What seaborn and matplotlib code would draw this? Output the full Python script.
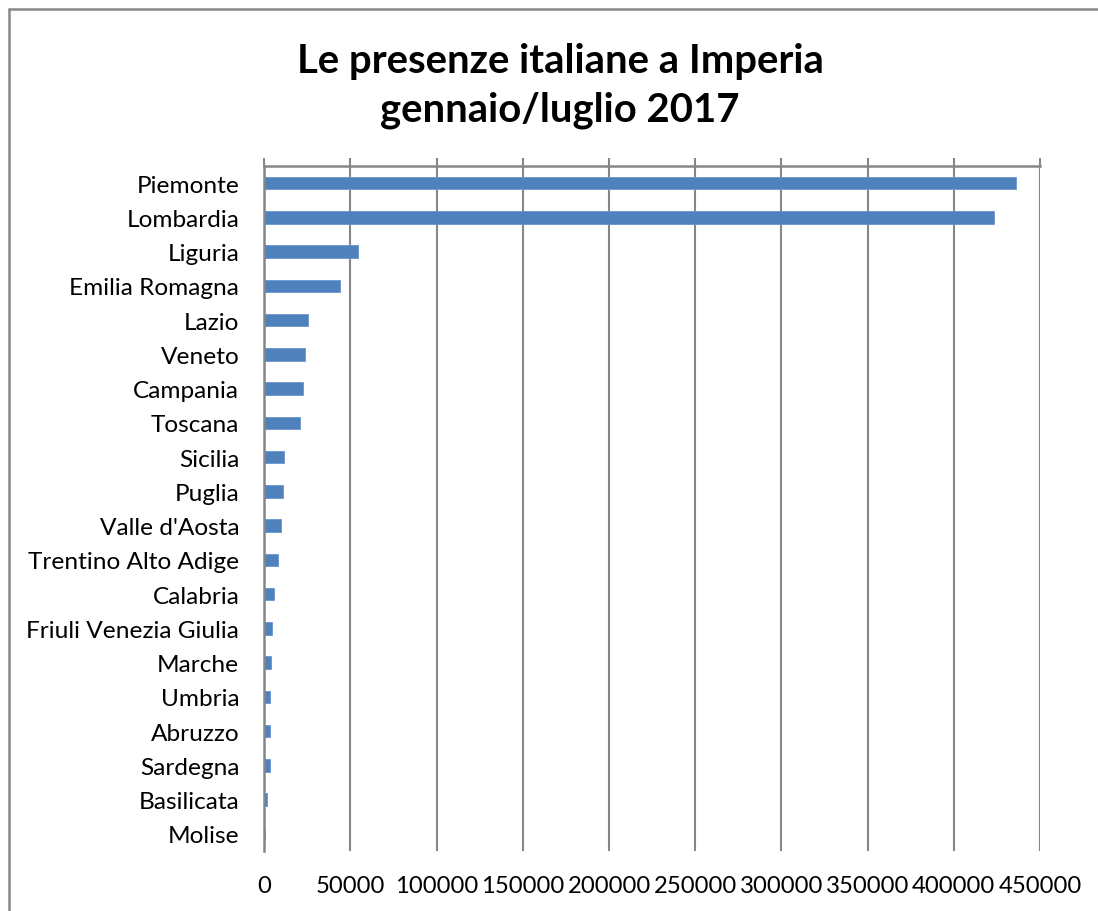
import numpy as np
import pandas as pd
import matplotlib
matplotlib.use("Agg")
import matplotlib.pyplot as plt
import seaborn as sns
from matplotlib.lines import Line2D

regioni = ['Piemonte', 'Lombardia', 'Liguria', 'Emilia Romagna', 'Lazio', 'Veneto',
           'Campania', 'Toscana', 'Sicilia', 'Puglia', "Valle d'Aosta",
           'Trentino Alto Adige', 'Calabria', 'Friuli Venezia Giulia', 'Marche',
           'Umbria', 'Abruzzo', 'Sardegna', 'Basilicata', 'Molise']
presenze = [436000, 423300, 54500, 43900, 25200, 23600, 22600, 20500, 11600, 10800,
            9700, 8100, 5400, 4300, 3700, 3500, 3500, 3100, 1700, 600]
x_ticks = list(range(0, 450001, 50000))

df = pd.DataFrame({'regione': regioni, 'presenze': presenze})

sns.set_style('white')
plt.rcParams['font.family'] = ['Lato', 'DejaVu Sans']
plt.rcParams['text.color'] = 'black'
plt.rcParams['xtick.labelcolor'] = 'black'
plt.rcParams['ytick.labelcolor'] = 'black'

grigio = '#868686'
fig = plt.figure(figsize=(10.98, 9.12), dpi=100)
ax = fig.add_axes([0.2407, 0.0658, 0.9472 - 0.2407, 0.8169 - 0.0658])

sns.barplot(data=df, y='regione', x='presenze', orient='h', color='#4F81BD',
            width=0.37, saturation=1, ax=ax, edgecolor='#6A95CC', linewidth=0.6)

ax.set_xlim(0, 450000)
ax.set_ylim(len(regioni) - 0.5, -0.5)
ax.set_xticks(x_ticks)
ax.set_xticklabels([str(v) for v in x_ticks])
ax.set_xlabel('')
ax.set_ylabel('')

ax.grid(axis='x', color=grigio, linewidth=1.5)
ax.set_axisbelow(True)

for s in ['bottom', 'right']:
    ax.spines[s].set_visible(False)
for s in ['top', 'left']:
    ax.spines[s].set_color(grigio)
    ax.spines[s].set_linewidth(1.8)

ax.tick_params(axis='x', top=True, bottom=False, labeltop=False, labelbottom=True,
               direction='out', length=6, width=1.5, color=grigio, pad=11, labelsize=17.2)
ax.tick_params(axis='y', which='major', length=0, pad=18, labelsize=17.6)
ax.set_yticks(np.arange(-0.5, len(regioni)), minor=True)
ax.tick_params(axis='y', which='minor', length=6, width=1.5, color=grigio, direction='out')

fig.text(0.51, 0.933, 'Le presenze italiane a Imperia', ha='center', va='center',
         fontsize=28.8, fontweight='bold')
fig.text(0.51, 0.879, 'gennaio/luglio 2017', ha='center', va='center',
         fontsize=28.8, fontweight='bold')

# cornice del grafico
fig.add_artist(Line2D([9 / 1098, 1], [1 - 10 / 912, 1 - 10 / 912], color=grigio, lw=1.8))
fig.add_artist(Line2D([9 / 1098, 9 / 1098], [0, 1 - 10 / 912], color=grigio, lw=1.8))

plt.savefig('out.png', dpi=100)
